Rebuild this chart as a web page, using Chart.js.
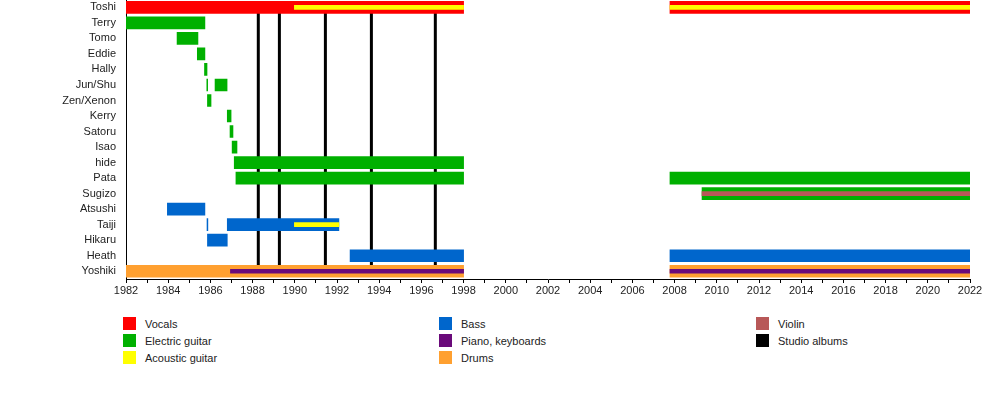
<!DOCTYPE html>
<html>
<head>
<meta charset="utf-8">
<script src="https://cdn.jsdelivr.net/npm/chart.js@4/dist/chart.umd.min.js"></script>
<style>
  body { margin: 0; background: #fff; font-family: "Liberation Sans", Arial, sans-serif; overflow: hidden; }
  #wrap { position: relative; width: 1000px; height: 400px; overflow: hidden; }
  #chartBox { position: absolute; left: 0; top: -17px; width: 1000px; height: 317px; }
  #legend { position: absolute; left: 0; top: 317px; width: 1000px; }
  .item { position: absolute; font-size: 11px; color: #222; height: 14px; line-height: 14px; }
  .item span { position: absolute; left: 0; top: 0; width: 13px; height: 13px; }
  .item b { position: absolute; left: 22px; top: 0; font-weight: normal; white-space: nowrap; }
</style>
</head>
<body>
<div id="wrap">
  <div id="chartBox"><canvas id="timeline"></canvas></div>
  <div id="legend"></div>
</div>
<script>
'use strict';

let members = ['Toshi', 'Terry', 'Tomo', 'Eddie', 'Hally', 'Jun/Shu', 'Zen/Xenon', 'Kerry', 'Satoru',
  'Isao', 'hide', 'Pata', 'Sugizo', 'Atsushi', 'Taiji', 'Hikaru', 'Heath', 'Yoshiki'];

// [member, start, end]
let vocals = [['Toshi', 1982, 1998], ['Toshi', 2007.78, 2022]];
let electricGuitar = [
  ['Terry', 1982, 1985.74], ['Tomo', 1984.42, 1985.41], ['Eddie', 1985.38, 1985.74],
  ['Hally', 1985.72, 1985.84], ['Jun/Shu', 1985.83, 1985.87], ['Jun/Shu', 1986.22, 1986.79],
  ['Zen/Xenon', 1985.86, 1986.03], ['Kerry', 1986.8, 1986.98], ['Satoru', 1986.93, 1987.07],
  ['Isao', 1987.03, 1987.26], ['hide', 1987.13, 1998], ['Pata', 1987.21, 1998],
  ['Pata', 2007.78, 2022], ['Sugizo', 2009.3, 2022]
];
let acousticGuitar = [['Toshi', 1989.98, 1998], ['Toshi', 2007.78, 2022], ['Taiji', 1989.98, 1992.09]];
let bass = [
  ['Atsushi', 1983.96, 1985.74], ['Taiji', 1985.84, 1985.88], ['Taiji', 1986.8, 1992.09],
  ['Hikaru', 1985.86, 1986.8], ['Heath', 1992.62, 1998], ['Heath', 2007.78, 2022]
];
let piano = [['Yoshiki', 1986.95, 1998], ['Yoshiki', 2007.78, 2022]];
let drums = [['Yoshiki', 1982, 1998], ['Yoshiki', 2007.78, 2022]];
let violin = [['Sugizo', 2009.3, 2022]];
let studioAlbums = [1988.27, 1989.27, 1991.45, 1993.63, 1996.66];

let colors = {
  vocals: '#ff0000',
  electric: '#00b000',
  acoustic: '#ffff00',
  bass: '#0066cc',
  piano: '#6a0a7a',
  drums: '#ffa030',
  violin: '#b85858',
  albums: '#000000'
};

function toBars(rows) {
  return rows.map(r => ({ y: r[0], x: [r[1], r[2]] }));
}

function barSet(label, rows, color, thick) {
  return {
    type: 'bar',
    label: label,
    data: toBars(rows),
    backgroundColor: color,
    borderWidth: 0,
    barThickness: thick,
    grouped: false,
    indexAxis: 'y',
    xAxisID: 'x',
    yAxisID: 'y'
  };
}

// thin stripes first so they sit on top of the wide bars
let datasets = [
  barSet('Acoustic guitar', acousticGuitar, colors.acoustic, 4),
  barSet('Piano, keyboards', piano, colors.piano, 4),
  barSet('Violin', violin, colors.violin, 4),
  barSet('Vocals', vocals, colors.vocals, 12),
  barSet('Electric guitar', electricGuitar, colors.electric, 12),
  barSet('Bass', bass, colors.bass, 12),
  barSet('Drums', drums, colors.drums, 12)
];

studioAlbums.forEach(year => {
  datasets.push({
    type: 'line',
    label: 'Studio albums',
    data: [{ x: year, y: 0 }, { x: year, y: 1 }],
    borderColor: colors.albums,
    borderWidth: 3,
    pointRadius: 0,
    fill: false,
    indexAxis: 'x',
    xAxisID: 'x',
    yAxisID: 'yl'
  });
});

let config = {
  type: 'bar',
  data: { labels: members, datasets: datasets },
  options: {
    responsive: true,
    maintainAspectRatio: false,
    animation: false,
    indexAxis: 'y',
    layout: { padding: { top: -2, right: 30, left: 0, bottom: 0 } },
    plugins: { legend: { display: false }, tooltip: { enabled: false } },
    scales: {
      x: {
        type: 'linear',
        min: 1982,
        max: 2022,
        border: { display: true, color: '#000', width: 1 },
        grid: { display: true, drawOnChartArea: false, color: '#000', tickLength: 4 },
        ticks: {
          stepSize: 1,
          autoSkip: false,
          maxRotation: 0,
          padding: 1,
          color: '#222',
          font: { family: '"Liberation Sans", Arial, sans-serif', size: 11 },
          callback: v => (v % 2 === 0 ? String(v) : '')
        },
        afterFit: s => { s.height = 21; }
      },
      y: {
        type: 'category',
        offset: true,
        border: { display: true, color: '#000', width: 1 },
        grid: { display: false, drawTicks: false },
        ticks: {
          autoSkip: false,
          padding: 10,
          color: '#222',
          font: { family: '"Liberation Sans", Arial, sans-serif', size: 11 }
        },
        afterFit: s => { s.width = 126; }
      },
      yl: {
        type: 'linear',
        display: false,
        min: 0,
        max: 1
      }
    }
  }
};

new Chart(document.getElementById('timeline'), config);

// legend in three columns, like the original
let legendItems = [
  ['Vocals', colors.vocals, 0, 0], ['Electric guitar', colors.electric, 0, 1], ['Acoustic guitar', colors.acoustic, 0, 2],
  ['Bass', colors.bass, 1, 0], ['Piano, keyboards', colors.piano, 1, 1], ['Drums', colors.drums, 1, 2],
  ['Violin', colors.violin, 2, 0], ['Studio albums', colors.albums, 2, 1]
];
let colX = [123, 439, 756];
let legend = document.getElementById('legend');
legendItems.forEach(it => {
  let div = document.createElement('div');
  div.className = 'item';
  div.style.left = colX[it[2]] + 'px';
  div.style.top = (it[3] * 17) + 'px';
  div.innerHTML = '<span style="background:' + it[1] + '"></span><b>' + it[0] + '</b>';
  legend.appendChild(div);
});
</script>
</body>
</html>
